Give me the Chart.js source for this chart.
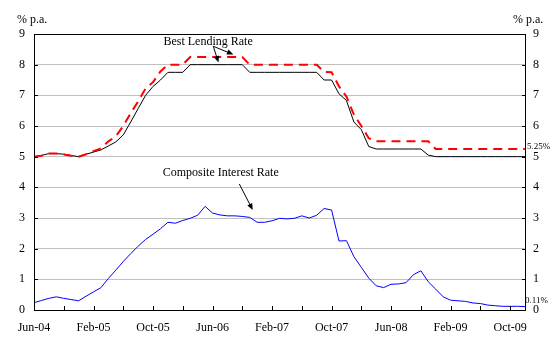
<!DOCTYPE html>
<html>
<head>
<meta charset="utf-8">
<script src="https://cdn.jsdelivr.net/npm/chart.js@4/dist/chart.umd.min.js"></script>
<style>
    html, body { margin: 0; padding: 0; background: #ffffff; }
    .chart-box { position: relative; width: 560px; height: 341px; }
</style>
</head>
<body>
<div class="chart-box"><canvas id="ratesChart"></canvas></div>
<script>
const monthLabels = [
    'Jun-04', 'Jul-04', 'Aug-04', 'Sep-04', 'Oct-04', 'Nov-04', 'Dec-04',
    'Jan-05', 'Feb-05', 'Mar-05', 'Apr-05', 'May-05', 'Jun-05', 'Jul-05', 'Aug-05', 'Sep-05', 'Oct-05', 'Nov-05', 'Dec-05',
    'Jan-06', 'Feb-06', 'Mar-06', 'Apr-06', 'May-06', 'Jun-06', 'Jul-06', 'Aug-06', 'Sep-06', 'Oct-06', 'Nov-06', 'Dec-06',
    'Jan-07', 'Feb-07', 'Mar-07', 'Apr-07', 'May-07', 'Jun-07', 'Jul-07', 'Aug-07', 'Sep-07', 'Oct-07', 'Nov-07', 'Dec-07',
    'Jan-08', 'Feb-08', 'Mar-08', 'Apr-08', 'May-08', 'Jun-08', 'Jul-08', 'Aug-08', 'Sep-08', 'Oct-08', 'Nov-08', 'Dec-08',
    'Jan-09', 'Feb-09', 'Mar-09', 'Apr-09', 'May-09', 'Jun-09', 'Jul-09', 'Aug-09', 'Sep-09', 'Oct-09', 'Nov-09', 'Dec-09',
];

// best lending rate, upper end of range (red dashed)
const blrUpper = [
    5.0, 5.03, 5.1, 5.1, 5.07, 5.03, 5.0, 5.08, 5.18, 5.27,
    5.5, 5.66, 6.0, 6.42, 6.8, 7.22, 7.43, 7.78, 8.0, 8.0,
    8.0, 8.25, 8.25, 8.25, 8.25, 8.25, 8.25, 8.25, 8.25, 8.0,
    8.0, 8.0, 8.0, 8.0, 8.0, 8.0, 8.0, 8.0, 8.0, 7.76,
    7.75, 7.29, 6.96, 6.37, 6.0, 5.6, 5.5, 5.5, 5.5, 5.5,
    5.5, 5.5, 5.5, 5.5, 5.25, 5.25, 5.25, 5.25, 5.25, 5.25,
    5.25, 5.25, 5.25, 5.25, 5.25, 5.25, 5.25,
];

// best lending rate, lower end of range (black)
const blrLower = [
    5.0, 5.04, 5.1, 5.1, 5.08, 5.04, 5.0, 5.08, 5.15, 5.22,
    5.35, 5.48, 5.71, 6.13, 6.57, 7.0, 7.29, 7.5, 7.75, 7.75,
    7.75, 8.0, 8.0, 8.0, 8.0, 8.0, 8.0, 8.0, 8.0, 7.75,
    7.75, 7.75, 7.75, 7.75, 7.75, 7.75, 7.75, 7.75, 7.75, 7.5,
    7.5, 7.05, 6.83, 6.13, 5.88, 5.33, 5.25, 5.25, 5.25, 5.25,
    5.25, 5.25, 5.25, 5.05, 5.0, 5.0, 5.0, 5.0, 5.0, 5.0,
    5.0, 5.0, 5.0, 5.0, 5.0, 5.0, 5.0,
];

const compositeRate = [
    0.24, 0.31, 0.38, 0.43, 0.38, 0.34, 0.30, 0.45, 0.59, 0.73,
    1.03, 1.30, 1.58, 1.84, 2.08, 2.30, 2.47, 2.65, 2.86, 2.83,
    2.92, 2.99, 3.09, 3.38, 3.16, 3.10, 3.07, 3.07, 3.05, 3.02,
    2.86, 2.86, 2.91, 2.99, 2.97, 2.99, 3.07, 3.0, 3.09, 3.31,
    3.26, 2.25, 2.26, 1.74, 1.39, 1.04, 0.79, 0.73, 0.84, 0.85,
    0.89, 1.15, 1.28, 0.92, 0.68, 0.43, 0.32, 0.30, 0.28, 0.23,
    0.21, 0.16, 0.14, 0.12, 0.12, 0.12, 0.11,
];

const rateTicks = [0, 1, 2, 3, 4, 5, 6, 7, 8, 9];

const serif = '"Liberation Serif", "Times New Roman", serif';
const gridGrey = '#c0c0c0';

const drawArrow = (ctx, x1, y1, x2, y2) => {
    const angle = Math.atan2(y2 - y1, x2 - x1);
    const head = 7;

    ctx.beginPath();
    ctx.moveTo(x1, y1);
    ctx.lineTo(x2 - Math.cos(angle) * head * 0.6, y2 - Math.sin(angle) * head * 0.6);
    ctx.stroke();

    ctx.beginPath();
    ctx.moveTo(x2, y2);
    ctx.lineTo(x2 - head * Math.cos(angle - 0.4), y2 - head * Math.sin(angle - 0.4));
    ctx.lineTo(x2 - head * Math.cos(angle + 0.4), y2 - head * Math.sin(angle + 0.4));
    ctx.closePath();
    ctx.fill();
};

const frameAndNotes = {
    id: 'frameAndNotes',
    afterDatasetsDraw(chart) {
        const { ctx, chartArea: area } = chart;
        const x = chart.scales.x;
        const y = chart.scales.y;
        const at = (month, value) => [x.getPixelForValue(month), y.getPixelForValue(value)];

        ctx.save();
        ctx.strokeStyle = '#000000';
        ctx.fillStyle = '#000000';
        ctx.lineWidth = 1;
        ctx.strokeRect(area.left + 0.5, area.top + 0.5, area.right - area.left, area.bottom - area.top);

        // tick marks point into the plot
        ctx.beginPath();
        rateTicks.forEach((value) => {
            const py = Math.round(y.getPixelForValue(value)) + 0.5;
            ctx.moveTo(area.left, py);
            ctx.lineTo(area.left + 4, py);
            ctx.moveTo(area.right - 3, py);
            ctx.lineTo(area.right + 1, py);
        });
        monthLabels.forEach((label, index) => {
            if (index % 4 === 0) {
                const px = Math.round(x.getPixelForValue(index)) + 0.5;
                ctx.moveTo(px, area.bottom);
                ctx.lineTo(px, area.bottom - 4);
            }
        });
        ctx.stroke();

        ctx.font = `12px ${serif}`;
        ctx.textBaseline = 'alphabetic';
        ctx.textAlign = 'left';
        ctx.fillText('% p.a.', 17, 23);
        ctx.fillText('% p.a.', 513, 23);

        ctx.textAlign = 'center';
        ctx.textBaseline = 'middle';
        ctx.fillText('Best Lending Rate', ...at(23.4, 8.75));
        ctx.fillText('Composite Interest Rate', ...at(25.1, 4.47));

        drawArrow(ctx, ...at(24.1, 8.6), ...at(24.8, 8.07));
        drawArrow(ctx, ...at(24.1, 8.6), ...at(26.8, 8.33));
        drawArrow(ctx, ...at(27.6, 4.11), ...at(29.4, 3.26));

        ctx.font = `9px ${serif}`;
        ctx.textAlign = 'left';
        ctx.fillText('5.25%', area.right + 2, y.getPixelForValue(5.33));
        ctx.fillText('0.11%', area.right, y.getPixelForValue(0.3));
        ctx.restore();
    },
};

const rateAxis = (position, width, padding) => ({
    type: 'linear',
    position,
    min: 0,
    max: 9,
    afterFit: (scale) => {
        scale.width = width;
    },
    afterBuildTicks: (scale) => {
        scale.ticks = rateTicks.map((value) => ({ value }));
    },
    ticks: {
        color: '#000000',
        padding,
        font: { family: serif, size: 12 },
    },
    border: { display: false },
    grid: {
        display: position === 'left',
        drawTicks: false,
        color: (context) => (context.tick.value === 0 || context.tick.value === 9 ? 'transparent' : gridGrey),
    },
});

new Chart(document.getElementById('ratesChart'), {
    type: 'line',
    data: {
        labels: monthLabels,
        datasets: [
            {
                label: 'Best Lending Rate (upper)',
                data: blrUpper,
                borderColor: '#ff0000',
                borderWidth: 2,
                borderDash: [9, 6],
                yAxisID: 'y',
            },
            {
                label: 'Best Lending Rate (lower)',
                data: blrLower,
                borderColor: '#000000',
                borderWidth: 1,
                yAxisID: 'y',
            },
            {
                label: 'Composite Interest Rate',
                data: compositeRate,
                borderColor: '#0000ff',
                borderWidth: 1,
                yAxisID: 'y',
            },
        ],
    },
    options: {
        responsive: true,
        maintainAspectRatio: false,
        animation: false,
        devicePixelRatio: 1,
        layout: {
            padding: { top: 34, left: 0, right: 0, bottom: 0 },
        },
        elements: {
            point: { radius: 0 },
            line: { tension: 0, fill: false },
        },
        plugins: {
            legend: { display: false },
            tooltip: { enabled: false },
        },
        scales: {
            x: {
                type: 'category',
                offset: false,
                afterFit: (scale) => {
                    scale.height = 31;
                },
                ticks: {
                    autoSkip: false,
                    maxRotation: 0,
                    padding: 11,
                    color: '#000000',
                    font: { family: serif, size: 12 },
                    callback: (value, index) => (index % 8 === 0 ? monthLabels[index] : ''),
                },
                border: { display: false },
                grid: { display: false, drawTicks: false },
            },
            y: rateAxis('left', 34, 9),
            y2: rateAxis('right', 35, 8),
        },
    },
    plugins: [frameAndNotes],
});
</script>
</body>
</html>
